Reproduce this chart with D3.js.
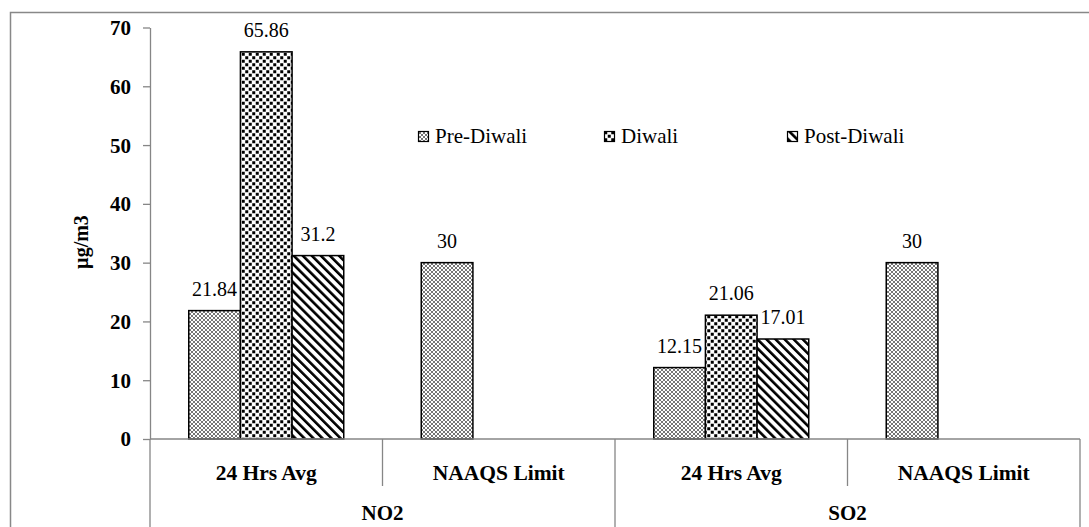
<!DOCTYPE html>
<html><head><meta charset="utf-8">
<script src="https://cdn.jsdelivr.net/npm/d3@7"></script>
<style>
html,body{margin:0;padding:0;background:#fff;}
svg, svg text{font-family:"Liberation Serif","Times New Roman","DejaVu Serif",serif !important;}
</style></head>
<body><svg id="c" width="1089" height="527"></svg>
<script>
const groups = ["NO2", "SO2"];
const subCategories = ["24 Hrs Avg", "NAAQS Limit"];
const seriesNames = ["Pre-Diwali", "Diwali", "Post-Diwali"];
const preDiwali = [21.84, 30, 12.15, 30];
const diwali = [65.86, null, 21.06, null];
const postDiwali = [31.2, null, 17.01, null];
const yTicks = [0, 10, 20, 30, 40, 50, 60, 70];
const yTitle = "µg/m3";

const FONT = "Liberation Serif, Times New Roman, DejaVu Serif, serif";
const svg = d3.select("#c").attr("font-family", FONT);
const defs = svg.append("defs");

// patterns
const p1 = defs.append("pattern").attr("id","pat0").attr("patternUnits","userSpaceOnUse").attr("width",4).attr("height",4);
p1.append("rect").attr("width",4).attr("height",4).attr("fill","#fff");
p1.append("path").attr("d","M0,0L4,4M4,0L0,4M-1,3L1,5M3,-1L5,1M-1,1L1,-1M3,5L5,3").attr("stroke","#666").attr("stroke-width",0.9);
const p2 = defs.append("pattern").attr("id","pat1").attr("patternUnits","userSpaceOnUse").attr("width",7).attr("height",7);
p2.append("rect").attr("width",7).attr("height",7).attr("fill","#fff");
p2.append("rect").attr("x",0.25).attr("y",0.25).attr("width",3).attr("height",3).attr("fill","#000");
p2.append("rect").attr("x",3.75).attr("y",3.75).attr("width",3).attr("height",3).attr("fill","#000");
const p3 = defs.append("pattern").attr("id","pat2").attr("patternUnits","userSpaceOnUse").attr("width",6.4).attr("height",6.4).attr("patternTransform","rotate(-45)");
p3.append("rect").attr("width",6.4).attr("height",6.4).attr("fill","#fff");
p3.append("rect").attr("x",0).attr("y",0).attr("width",2.6).attr("height",6.4).attr("fill","#000");

// outer frame
svg.append("rect").attr("x",10.5).attr("y",12.5).attr("width",1100).attr("height",600)
  .attr("fill","none").attr("stroke","#888").attr("stroke-width",1.5);

const x0 = 150, x1 = 1080, yTop = 27.5, yBase = 439;
const cats = [];
groups.forEach(g => subCategories.forEach(s => cats.push(g + "|" + s)));
const xCat = d3.scaleBand().domain(cats).range([x0, x1]).padding(0);
const cw = xCat.bandwidth();
const xSer = d3.scaleBand().domain(seriesNames).range([0, cw]).paddingInner(0).paddingOuter(0.75);
const y = d3.scaleLinear().domain([0, 70]).range([yBase, yTop]);

// y axis
const yAxis = svg.append("g").attr("transform", `translate(${x0},0)`)
  .call(d3.axisLeft(y).tickValues(yTicks).tickSize(7).tickPadding(12).tickSizeOuter(0));
yAxis.attr("font-family", FONT);
yAxis.select(".domain").attr("stroke","#868686").attr("stroke-width",1.3);
yAxis.selectAll(".tick line").attr("stroke","#868686").attr("stroke-width",1.3);
yAxis.selectAll(".tick text").attr("font-family",FONT).attr("font-size",21).attr("font-weight","bold").attr("fill","#000").attr("dy","0.33em");
svg.append("line").attr("x1",x0).attr("x2",x0).attr("y1",yBase).attr("y2",527).attr("stroke","#868686").attr("stroke-width",1.3);

svg.append("text").attr("transform",`translate(88,242) rotate(-90)`).attr("text-anchor","middle")
  .attr("font-family",FONT).attr("font-size",20).attr("font-weight","bold").text(yTitle);

// bars
const seriesData = [preDiwali, diwali, postDiwali];
seriesData.forEach((vals, si) => {
  const gS = svg.append("g");
  vals.forEach((v, ci) => {
    if (v === null) return;
    const bx = xCat(cats[ci]) + xSer(seriesNames[si]);
    gS.append("rect").attr("x", bx).attr("y", y(v)).attr("width", xSer.bandwidth()).attr("height", yBase - y(v))
      .attr("fill", `url(#pat${si})`).attr("stroke","#000").attr("stroke-width",1.5);
    gS.append("text").attr("x", bx + xSer.bandwidth()/2).attr("y", y(v) - 15).attr("text-anchor","middle")
      .attr("font-family",FONT).attr("font-size",20).attr("fill","#000").text(v);
  });
});

// x axis line
svg.append("line").attr("x1",x0).attr("x2",x1).attr("y1",yBase).attr("y2",yBase).attr("stroke","#868686").attr("stroke-width",1.5);
cats.forEach((c, i) => {
  if (i === 0) return;
  const sx = xCat(c);
  const long = c.endsWith(subCategories[0]);
  svg.append("line").attr("x1",sx).attr("x2",sx).attr("y1",yBase).attr("y2", long ? 527 : 486).attr("stroke","#868686").attr("stroke-width",1.3);
});
svg.append("line").attr("x1",x1).attr("x2",x1).attr("y1",yBase).attr("y2",527).attr("stroke","#868686").attr("stroke-width",1.3);

// category labels
cats.forEach(c => {
  svg.append("text").attr("x", xCat(c) + cw/2).attr("y", 480).attr("text-anchor","middle")
    .attr("font-family",FONT).attr("font-size",21.5).attr("font-weight","bold").text(c.split("|")[1]);
});
groups.forEach(g => {
  const gx = xCat(g + "|" + subCategories[0]) + cw;
  svg.append("text").attr("x", gx).attr("y", 520).attr("text-anchor","middle")
    .attr("font-family",FONT).attr("font-size",21).attr("font-weight","bold").text(g);
});

// legend
const legX = [418, 604, 787];
seriesNames.forEach((s, i) => {
  const lg = svg.append("g").attr("transform", `translate(${legX[i]},131)`);
  lg.append("rect").attr("x",0.5).attr("y",0.5).attr("width",10).attr("height",10).attr("fill",`url(#pat${i})`).attr("stroke","#000").attr("stroke-width",1.2);
  lg.append("text").attr("x",17).attr("y",12).attr("font-family",FONT).attr("font-size",21).text(s);
});
</script></body></html>
